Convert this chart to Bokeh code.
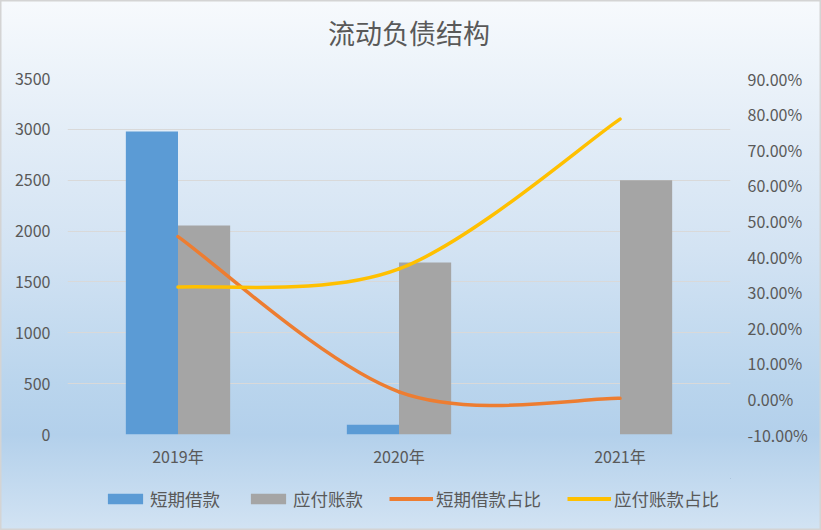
from bokeh.plotting import figure
from bokeh.layouts import column
from bokeh.models import (Range1d, LinearAxis, FixedTicker, NumeralTickFormatter,
                          Legend, LegendItem, ColumnDataSource, Label)
from bokeh.transform import dodge
from bokeh.embed import file_html
from bokeh.resources import INLINE

# ---- data ----
title_text = "流动负债结构"
years = ["2019年", "2020年", "2021年"]
short_loans = [2980, 95, 0]          # 短期借款
payables = [2055, 1690, 2500]        # 应付账款
short_ratio = [0.456, 0.020, 0.0015]  # 短期借款占比
pay_ratio = [0.314, 0.365, 0.786]     # 应付账款占比
left_ticks = [0, 500, 1000, 1500, 2000, 2500, 3000, 3500]
right_ticks = [-0.1, 0.0, 0.1, 0.2, 0.3, 0.4, 0.5, 0.6, 0.7, 0.8, 0.9]
series_names = ["短期借款", "应付账款", "短期借款占比", "应付账款占比"]

FONT = "Noto Sans CJK SC"
TXT = "#595959"
BLUE, GRAY, ORANGE, YELLOW = "#5b9bd5", "#a5a5a5", "#ed7d31", "#ffc000"

xs = [i + 0.5 for i in range(len(years))]


def strip(height, xr, yr):
    f = figure(width=821, height=height, x_range=xr, y_range=yr,
               output_backend="svg", toolbar_location=None, title=None,
               x_axis_type=None, y_axis_type=None,
               min_border_left=67, min_border_right=91, min_border_top=0, min_border_bottom=0)
    f.background_fill_color = None
    f.border_fill_color = None
    f.outline_line_color = None
    f.grid.visible = False
    return f


# ---- title strip ----
top = strip(60, Range1d(0, 1), Range1d(0, 1))
top.add_layout(Label(x=0.515, y=0.47, text=title_text, text_align="center", text_baseline="middle",
                     text_font=FONT, text_font_size="27px", text_color=TXT))

# ---- main chart ----
p = figure(width=821, height=418, x_range=Range1d(0, len(years)), y_range=Range1d(0, 3500),
           output_backend="svg", toolbar_location=None, title=None,
           min_border_left=67, min_border_right=91, min_border_top=18, min_border_bottom=44)
p.extra_y_ranges = {"pct": Range1d(-0.1, 0.9)}
p.background_fill_color = None
p.border_fill_color = None
p.outline_line_color = None


def style_axis(ax):
    ax.axis_line_color = None
    ax.major_tick_line_color = None
    ax.minor_tick_line_color = None
    ax.major_tick_out = 0
    ax.major_tick_in = 0
    ax.major_label_text_font = FONT
    ax.major_label_text_font_size = "16px"
    ax.major_label_text_color = TXT


p.xaxis.ticker = FixedTicker(ticks=xs)
p.xaxis.major_label_overrides = {x: y for x, y in zip(xs, years)}
style_axis(p.xaxis[0])
p.xaxis.major_label_standoff = 9

p.yaxis.ticker = FixedTicker(ticks=left_ticks)
style_axis(p.yaxis[0])
p.yaxis.major_label_standoff = 17

raxis = LinearAxis(y_range_name="pct", ticker=FixedTicker(ticks=right_ticks),
                   formatter=NumeralTickFormatter(format="0.00%"))
style_axis(raxis)
raxis.major_label_standoff = 17
p.add_layout(raxis, "right")

p.xgrid.visible = False
p.ygrid.grid_line_color = "#d9d9d9"
p.ygrid.grid_line_width = 1

src = ColumnDataSource(dict(x=xs, s=short_loans, a=payables, r1=short_ratio, r2=pay_ratio))
bw = 0.236
p.vbar(x=dodge("x", -bw / 2, range=p.x_range), top="s", width=bw, source=src,
       fill_color=BLUE, line_color=None)
p.vbar(x=dodge("x", bw / 2, range=p.x_range), top="a", width=bw, source=src,
       fill_color=GRAY, line_color=None)


# smooth lines (Catmull-Rom -> cubic bezier, as Excel's smoothed line)
def bezier_source(xv, yv):
    n = len(xv)
    d = dict(x0=[], y0=[], x1=[], y1=[], cx0=[], cy0=[], cx1=[], cy1=[])
    for i in range(n - 1):
        pxm = xv[i - 1] if i > 0 else xv[i]
        pym = yv[i - 1] if i > 0 else yv[i]
        pxp = xv[i + 2] if i + 2 < n else xv[i + 1]
        pyp = yv[i + 2] if i + 2 < n else yv[i + 1]
        d["x0"].append(xv[i]); d["y0"].append(yv[i])
        d["x1"].append(xv[i + 1]); d["y1"].append(yv[i + 1])
        d["cx0"].append(xv[i] + (xv[i + 1] - pxm) / 6)
        d["cy0"].append(yv[i] + (yv[i + 1] - pym) / 6)
        d["cx1"].append(xv[i + 1] - (pxp - xv[i]) / 6)
        d["cy1"].append(yv[i + 1] - (pyp - yv[i]) / 6)
    return ColumnDataSource(d)


for ratio, col in ((short_ratio, ORANGE), (pay_ratio, YELLOW)):
    p.bezier(x0="x0", y0="y0", x1="x1", y1="y1", cx0="cx0", cy0="cy0", cx1="cx1", cy1="cy1",
             source=bezier_source(xs, ratio), y_range_name="pct",
             line_color=col, line_width=3.5, line_cap="round")

# ---- legend strip (its renderers use the same data, kept outside the strip's view) ----
lg = strip(52, Range1d(-20, -19), Range1d(-20, -19))
lr_blue = lg.vbar(x="x", top="s", width=bw, source=src, fill_color=BLUE, line_color=None)
lr_gray = lg.vbar(x="x", top="a", width=bw, source=src, fill_color=GRAY, line_color=None)
lr_orange = lg.line(x="x", y="r1", source=src, line_color=ORANGE, line_width=4)
lr_yellow = lg.line(x="x", y="r2", source=src, line_color=YELLOW, line_width=4)

legend = Legend(items=[LegendItem(label=n, renderers=[r]) for n, r in
                       zip(series_names, [lr_blue, lr_gray, lr_orange, lr_yellow])],
                orientation="horizontal", location=(36, 19),
                glyph_width=44, glyph_height=13, label_standoff=3, spacing=26,
                label_text_font=FONT, label_text_font_size="17.5px", label_text_color=TXT,
                background_fill_alpha=0, border_line_color=None, padding=0, margin=0)
lg.add_layout(legend, "center")

layout = column(top, p, lg, spacing=0)
layout.styles = {
    "position": "fixed", "top": "0px", "left": "0px",
    "background": "linear-gradient(180deg, #f7fafd 0%, #e3edf7 25%, #d3e3f3 47%, #bad5ed 72%, #b3d0eb 82%, #d2e3f3 100%)",
    "box-shadow": "inset 0 0 0 1.5px #d4d4d4",
}

open("out.html", "w").write(file_html(layout, INLINE))
